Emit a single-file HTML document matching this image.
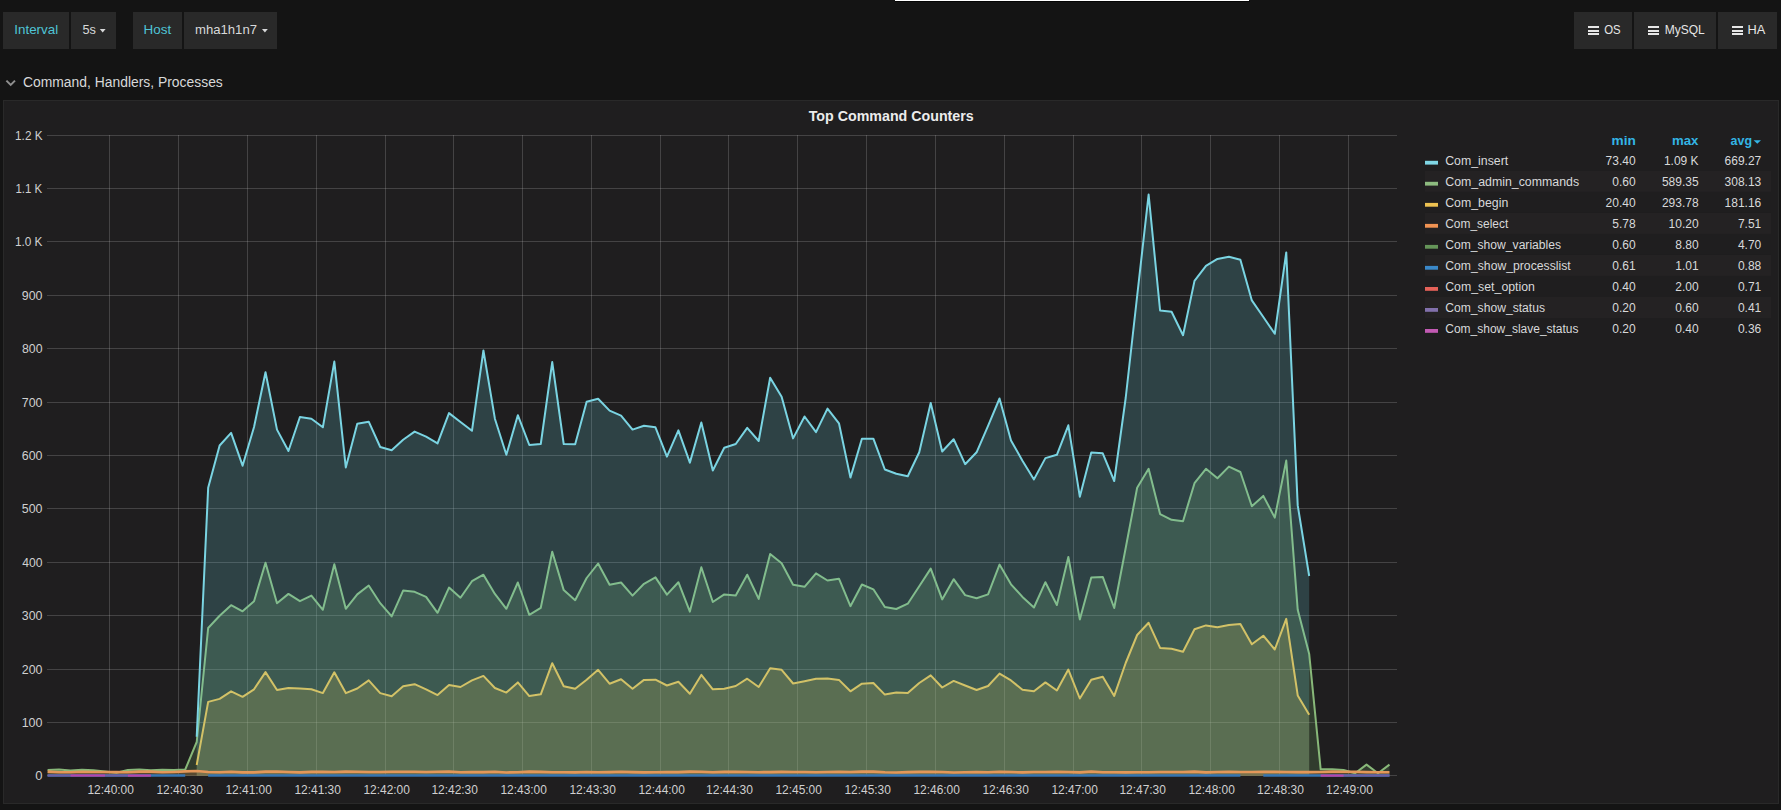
<!DOCTYPE html>
<html><head><meta charset="utf-8"><title>Grafana - MySQL</title>
<style>
html,body{margin:0;padding:0;background:#141414;}
body{width:1781px;height:810px;overflow:hidden;position:relative;}
svg{position:absolute;left:0;top:0;display:block;}
svg text{font-family:"Liberation Sans",sans-serif;white-space:pre;}
</style></head><body>
<svg width="1781" height="810" viewBox="0 0 1781 810">
<rect x="0" y="0" width="1781" height="810" fill="#141414"/>
<rect x="895" y="0" width="354" height="1" fill="#ffffff"/>
<rect x="895" y="1" width="355" height="1" fill="#050505"/>
<g fill="#292929">
<rect x="3" y="12" width="66" height="37"/>
<rect x="71" y="12" width="45" height="37"/>
<rect x="133" y="12" width="49" height="37"/>
<rect x="184" y="12" width="93" height="37"/>
<rect x="1574" y="12" width="58" height="37"/>
<rect x="1634" y="12" width="82" height="37"/>
<rect x="1718" y="12" width="59" height="37"/>
</g>
<path d="M99.8,29 L105.6,29 L102.7,32.4 Z" fill="#d8d9da"/>
<path d="M262,29 L267.8,29 L264.9,32.4 Z" fill="#d8d9da"/>
<rect x="1588" y="26" width="11" height="2" fill="#e6e6e6"/><rect x="1588" y="30" width="11" height="2" fill="#e6e6e6"/><rect x="1588" y="33" width="11" height="2" fill="#e6e6e6"/><rect x="1648" y="26" width="11" height="2" fill="#e6e6e6"/><rect x="1648" y="30" width="11" height="2" fill="#e6e6e6"/><rect x="1648" y="33" width="11" height="2" fill="#e6e6e6"/><rect x="1732" y="26" width="11" height="2" fill="#e6e6e6"/><rect x="1732" y="30" width="11" height="2" fill="#e6e6e6"/><rect x="1732" y="33" width="11" height="2" fill="#e6e6e6"/>
<path d="M6.4,80.6 L10.7,84.9 L15,80.6" fill="none" stroke="#8f8f8f" stroke-width="2"/>
<rect x="3" y="100" width="1776" height="704" fill="#292929"/>
<rect x="4" y="101" width="1774" height="702" fill="#1f1e1f"/>
<g fill="rgba(200,200,200,0.22)">
<rect x="47" y="775" width="1350" height="1"/>
<rect x="47" y="722" width="1350" height="1"/>
<rect x="47" y="669" width="1350" height="1"/>
<rect x="47" y="615" width="1350" height="1"/>
<rect x="47" y="562" width="1350" height="1"/>
<rect x="47" y="508" width="1350" height="1"/>
<rect x="47" y="455" width="1350" height="1"/>
<rect x="47" y="402" width="1350" height="1"/>
<rect x="47" y="348" width="1350" height="1"/>
<rect x="47" y="295" width="1350" height="1"/>
<rect x="47" y="241" width="1350" height="1"/>
<rect x="47" y="188" width="1350" height="1"/>
<rect x="47" y="135" width="1350" height="1"/>
<rect x="109" y="135" width="1" height="641"/>
<rect x="178" y="135" width="1" height="641"/>
<rect x="247" y="135" width="1" height="641"/>
<rect x="316" y="135" width="1" height="641"/>
<rect x="385" y="135" width="1" height="641"/>
<rect x="453" y="135" width="1" height="641"/>
<rect x="522" y="135" width="1" height="641"/>
<rect x="591" y="135" width="1" height="641"/>
<rect x="660" y="135" width="1" height="641"/>
<rect x="728" y="135" width="1" height="641"/>
<rect x="797" y="135" width="1" height="641"/>
<rect x="866" y="135" width="1" height="641"/>
<rect x="935" y="135" width="1" height="641"/>
<rect x="1004" y="135" width="1" height="641"/>
<rect x="1073" y="135" width="1" height="641"/>
<rect x="1141" y="135" width="1" height="641"/>
<rect x="1210" y="135" width="1" height="641"/>
<rect x="1279" y="135" width="1" height="641"/>
<rect x="1348" y="135" width="1" height="641"/>
</g>
<g>
<path d="M47.60,775.80 L47.60,770.00 L59.07,769.60 L70.54,770.40 L82.01,769.80 L93.48,770.20 L104.94,771.50 L116.41,772.80 L127.88,770.00 L139.35,769.60 L150.82,770.20 L162.29,769.80 L173.76,770.00 L185.23,769.50 L196.70,742.00 L208.17,628.00 L219.63,615.80 L231.10,605.20 L242.57,611.30 L254.04,601.20 L265.51,562.80 L276.98,603.20 L288.45,593.90 L299.92,601.20 L311.39,595.60 L322.86,609.80 L334.32,564.30 L345.79,608.80 L357.26,594.40 L368.73,585.50 L380.20,603.20 L391.67,616.40 L403.14,590.60 L414.61,591.80 L426.08,596.90 L437.55,612.80 L449.01,587.60 L460.48,597.70 L471.95,581.20 L483.42,574.70 L494.89,593.90 L506.36,608.80 L517.83,582.50 L529.30,614.80 L540.77,607.80 L552.24,551.70 L563.71,590.10 L575.17,600.20 L586.64,578.00 L598.11,563.50 L609.58,584.80 L621.05,582.50 L632.52,595.60 L643.99,583.80 L655.46,577.40 L666.93,594.60 L678.39,582.20 L689.86,611.60 L701.33,567.30 L712.80,602.00 L724.27,594.40 L735.74,595.60 L747.21,574.70 L758.68,598.90 L770.15,554.00 L781.62,563.30 L793.09,584.80 L804.55,586.80 L816.02,573.40 L827.49,580.50 L838.96,578.70 L850.43,606.20 L861.90,584.50 L873.37,589.30 L884.84,607.00 L896.31,609.00 L907.77,603.70 L919.24,586.30 L930.71,568.60 L942.18,599.40 L953.65,579.20 L965.12,595.10 L976.59,598.20 L988.06,594.40 L999.53,564.60 L1011.00,584.30 L1022.46,596.90 L1033.93,607.50 L1045.40,582.20 L1056.87,605.00 L1068.34,557.00 L1079.81,619.40 L1091.28,577.40 L1102.75,576.90 L1114.22,608.00 L1125.69,548.00 L1137.15,487.80 L1148.62,468.80 L1160.09,514.10 L1171.56,519.80 L1183.03,521.20 L1194.50,483.20 L1205.97,468.80 L1217.44,478.30 L1228.91,466.60 L1240.38,472.00 L1251.84,506.20 L1263.31,495.90 L1274.78,517.60 L1286.25,460.60 L1297.72,609.80 L1309.19,653.90 L1320.66,769.30 L1332.13,769.30 L1343.60,770.00 L1355.07,773.20 L1366.53,764.60 L1378.00,773.20 L1389.47,764.60 L1389.47,775.80 Z" fill="#7EB26D" fill-opacity="0.20" stroke="none"/>
<path d="M47.60,770.00 L59.07,769.60 L70.54,770.40 L82.01,769.80 L93.48,770.20 L104.94,771.50 L116.41,772.80 L127.88,770.00 L139.35,769.60 L150.82,770.20 L162.29,769.80 L173.76,770.00 L185.23,769.50 L196.70,742.00 L208.17,628.00 L219.63,615.80 L231.10,605.20 L242.57,611.30 L254.04,601.20 L265.51,562.80 L276.98,603.20 L288.45,593.90 L299.92,601.20 L311.39,595.60 L322.86,609.80 L334.32,564.30 L345.79,608.80 L357.26,594.40 L368.73,585.50 L380.20,603.20 L391.67,616.40 L403.14,590.60 L414.61,591.80 L426.08,596.90 L437.55,612.80 L449.01,587.60 L460.48,597.70 L471.95,581.20 L483.42,574.70 L494.89,593.90 L506.36,608.80 L517.83,582.50 L529.30,614.80 L540.77,607.80 L552.24,551.70 L563.71,590.10 L575.17,600.20 L586.64,578.00 L598.11,563.50 L609.58,584.80 L621.05,582.50 L632.52,595.60 L643.99,583.80 L655.46,577.40 L666.93,594.60 L678.39,582.20 L689.86,611.60 L701.33,567.30 L712.80,602.00 L724.27,594.40 L735.74,595.60 L747.21,574.70 L758.68,598.90 L770.15,554.00 L781.62,563.30 L793.09,584.80 L804.55,586.80 L816.02,573.40 L827.49,580.50 L838.96,578.70 L850.43,606.20 L861.90,584.50 L873.37,589.30 L884.84,607.00 L896.31,609.00 L907.77,603.70 L919.24,586.30 L930.71,568.60 L942.18,599.40 L953.65,579.20 L965.12,595.10 L976.59,598.20 L988.06,594.40 L999.53,564.60 L1011.00,584.30 L1022.46,596.90 L1033.93,607.50 L1045.40,582.20 L1056.87,605.00 L1068.34,557.00 L1079.81,619.40 L1091.28,577.40 L1102.75,576.90 L1114.22,608.00 L1125.69,548.00 L1137.15,487.80 L1148.62,468.80 L1160.09,514.10 L1171.56,519.80 L1183.03,521.20 L1194.50,483.20 L1205.97,468.80 L1217.44,478.30 L1228.91,466.60 L1240.38,472.00 L1251.84,506.20 L1263.31,495.90 L1274.78,517.60 L1286.25,460.60 L1297.72,609.80 L1309.19,653.90 L1320.66,769.30 L1332.13,769.30 L1343.60,770.00 L1355.07,773.20 L1366.53,764.60 L1378.00,773.20 L1389.47,764.60" fill="none" stroke="#88b879" stroke-width="2" stroke-linejoin="round"/>
<path d="M196.70,775.80 L196.70,765.00 L208.17,701.90 L219.63,698.90 L231.10,691.30 L242.57,696.80 L254.04,689.30 L265.51,672.10 L276.98,690.00 L288.45,688.00 L299.92,688.50 L311.39,689.30 L322.86,693.10 L334.32,672.30 L345.79,693.10 L357.26,688.50 L368.73,680.40 L380.20,693.10 L391.67,696.30 L403.14,686.20 L414.61,684.20 L426.08,689.30 L437.55,695.10 L449.01,685.00 L460.48,687.00 L471.95,680.40 L483.42,675.90 L494.89,688.00 L506.36,692.60 L517.83,682.40 L529.30,696.10 L540.77,694.30 L552.24,663.20 L563.71,686.20 L575.17,688.80 L586.64,679.70 L598.11,669.80 L609.58,683.70 L621.05,679.20 L632.52,688.80 L643.99,679.90 L655.46,679.70 L666.93,685.50 L678.39,681.70 L689.86,693.80 L701.33,674.90 L712.80,689.30 L724.27,688.80 L735.74,686.00 L747.21,678.70 L758.68,687.00 L770.15,668.30 L781.62,669.80 L793.09,683.50 L804.55,681.20 L816.02,678.70 L827.49,678.40 L838.96,679.90 L850.43,691.30 L861.90,683.70 L873.37,683.00 L884.84,694.60 L896.31,692.60 L907.77,693.10 L919.24,683.00 L930.71,675.40 L942.18,687.50 L953.65,680.90 L965.12,685.50 L976.59,690.00 L988.06,686.00 L999.53,673.60 L1011.00,680.40 L1022.46,689.80 L1033.93,691.30 L1045.40,682.40 L1056.87,690.50 L1068.34,669.60 L1079.81,698.50 L1091.28,679.80 L1102.75,676.70 L1114.22,695.90 L1125.69,663.00 L1137.15,635.00 L1148.62,622.80 L1160.09,647.90 L1171.56,648.70 L1183.03,651.80 L1194.50,629.30 L1205.97,625.40 L1217.44,627.20 L1228.91,624.90 L1240.38,624.10 L1251.84,644.30 L1263.31,635.70 L1274.78,649.50 L1286.25,618.90 L1297.72,695.40 L1309.19,714.80 L1309.19,775.80 Z" fill="#EAB839" fill-opacity="0.20" stroke="none"/>
<path d="M196.70,765.00 L208.17,701.90 L219.63,698.90 L231.10,691.30 L242.57,696.80 L254.04,689.30 L265.51,672.10 L276.98,690.00 L288.45,688.00 L299.92,688.50 L311.39,689.30 L322.86,693.10 L334.32,672.30 L345.79,693.10 L357.26,688.50 L368.73,680.40 L380.20,693.10 L391.67,696.30 L403.14,686.20 L414.61,684.20 L426.08,689.30 L437.55,695.10 L449.01,685.00 L460.48,687.00 L471.95,680.40 L483.42,675.90 L494.89,688.00 L506.36,692.60 L517.83,682.40 L529.30,696.10 L540.77,694.30 L552.24,663.20 L563.71,686.20 L575.17,688.80 L586.64,679.70 L598.11,669.80 L609.58,683.70 L621.05,679.20 L632.52,688.80 L643.99,679.90 L655.46,679.70 L666.93,685.50 L678.39,681.70 L689.86,693.80 L701.33,674.90 L712.80,689.30 L724.27,688.80 L735.74,686.00 L747.21,678.70 L758.68,687.00 L770.15,668.30 L781.62,669.80 L793.09,683.50 L804.55,681.20 L816.02,678.70 L827.49,678.40 L838.96,679.90 L850.43,691.30 L861.90,683.70 L873.37,683.00 L884.84,694.60 L896.31,692.60 L907.77,693.10 L919.24,683.00 L930.71,675.40 L942.18,687.50 L953.65,680.90 L965.12,685.50 L976.59,690.00 L988.06,686.00 L999.53,673.60 L1011.00,680.40 L1022.46,689.80 L1033.93,691.30 L1045.40,682.40 L1056.87,690.50 L1068.34,669.60 L1079.81,698.50 L1091.28,679.80 L1102.75,676.70 L1114.22,695.90 L1125.69,663.00 L1137.15,635.00 L1148.62,622.80 L1160.09,647.90 L1171.56,648.70 L1183.03,651.80 L1194.50,629.30 L1205.97,625.40 L1217.44,627.20 L1228.91,624.90 L1240.38,624.10 L1251.84,644.30 L1263.31,635.70 L1274.78,649.50 L1286.25,618.90 L1297.72,695.40 L1309.19,714.80" fill="none" stroke="#ecbe49" stroke-width="2" stroke-linejoin="round"/>
<path d="M196.70,775.80 L196.70,736.80 L208.17,487.70 L219.63,445.50 L231.10,432.90 L242.57,465.70 L254.04,427.00 L265.51,372.20 L276.98,429.60 L288.45,451.00 L299.92,417.00 L311.39,418.70 L322.86,427.30 L334.32,361.60 L345.79,467.40 L357.26,423.70 L368.73,421.70 L380.20,447.00 L391.67,450.30 L403.14,439.70 L414.61,431.60 L426.08,436.60 L437.55,443.40 L449.01,413.10 L460.48,422.00 L471.95,430.80 L483.42,350.50 L494.89,418.70 L506.36,454.80 L517.83,415.20 L529.30,445.00 L540.77,444.00 L552.24,362.10 L563.71,444.00 L575.17,444.20 L586.64,401.80 L598.11,398.80 L609.58,410.60 L621.05,415.70 L632.52,429.60 L643.99,425.80 L655.46,427.30 L666.93,456.60 L678.39,430.30 L689.86,462.60 L701.33,422.50 L712.80,470.50 L724.27,447.70 L735.74,444.00 L747.21,427.80 L758.68,441.00 L770.15,377.80 L781.62,396.70 L793.09,438.40 L804.55,416.50 L816.02,432.10 L827.49,408.60 L838.96,423.30 L850.43,477.60 L861.90,438.70 L873.37,438.70 L884.84,469.50 L896.31,473.80 L907.77,476.30 L919.24,452.30 L930.71,403.00 L942.18,451.50 L953.65,439.20 L965.12,464.20 L976.59,452.30 L988.06,425.80 L999.53,398.50 L1011.00,440.40 L1022.46,460.70 L1033.93,479.40 L1045.40,458.10 L1056.87,454.80 L1068.34,425.30 L1079.81,496.70 L1091.28,452.50 L1102.75,453.30 L1114.22,481.00 L1125.69,398.00 L1137.15,296.00 L1148.62,194.50 L1160.09,310.50 L1171.56,311.80 L1183.03,335.20 L1194.50,280.90 L1205.97,265.90 L1217.44,258.90 L1228.91,256.70 L1240.38,259.70 L1251.84,300.40 L1263.31,317.00 L1274.78,333.80 L1286.25,252.40 L1297.72,505.40 L1309.19,576.00 L1309.19,775.80 Z" fill="#6ED0E0" fill-opacity="0.20" stroke="none"/>
<path d="M196.70,736.80 L208.17,487.70 L219.63,445.50 L231.10,432.90 L242.57,465.70 L254.04,427.00 L265.51,372.20 L276.98,429.60 L288.45,451.00 L299.92,417.00 L311.39,418.70 L322.86,427.30 L334.32,361.60 L345.79,467.40 L357.26,423.70 L368.73,421.70 L380.20,447.00 L391.67,450.30 L403.14,439.70 L414.61,431.60 L426.08,436.60 L437.55,443.40 L449.01,413.10 L460.48,422.00 L471.95,430.80 L483.42,350.50 L494.89,418.70 L506.36,454.80 L517.83,415.20 L529.30,445.00 L540.77,444.00 L552.24,362.10 L563.71,444.00 L575.17,444.20 L586.64,401.80 L598.11,398.80 L609.58,410.60 L621.05,415.70 L632.52,429.60 L643.99,425.80 L655.46,427.30 L666.93,456.60 L678.39,430.30 L689.86,462.60 L701.33,422.50 L712.80,470.50 L724.27,447.70 L735.74,444.00 L747.21,427.80 L758.68,441.00 L770.15,377.80 L781.62,396.70 L793.09,438.40 L804.55,416.50 L816.02,432.10 L827.49,408.60 L838.96,423.30 L850.43,477.60 L861.90,438.70 L873.37,438.70 L884.84,469.50 L896.31,473.80 L907.77,476.30 L919.24,452.30 L930.71,403.00 L942.18,451.50 L953.65,439.20 L965.12,464.20 L976.59,452.30 L988.06,425.80 L999.53,398.50 L1011.00,440.40 L1022.46,460.70 L1033.93,479.40 L1045.40,458.10 L1056.87,454.80 L1068.34,425.30 L1079.81,496.70 L1091.28,452.50 L1102.75,453.30 L1114.22,481.00 L1125.69,398.00 L1137.15,296.00 L1148.62,194.50 L1160.09,310.50 L1171.56,311.80 L1183.03,335.20 L1194.50,280.90 L1205.97,265.90 L1217.44,258.90 L1228.91,256.70 L1240.38,259.70 L1251.84,300.40 L1263.31,317.00 L1274.78,333.80 L1286.25,252.40 L1297.72,505.40 L1309.19,576.00" fill="none" stroke="#7ad4e2" stroke-width="2" stroke-linejoin="round"/>
<path d="M47.60,775.80 L47.60,771.67 L59.07,772.31 L70.54,772.24 L82.01,771.78 L93.48,772.00 L104.94,771.95 L116.41,772.14 L127.88,772.26 L139.35,771.63 L150.82,771.58 L162.29,772.30 L173.76,771.94 L185.23,771.40 L196.70,771.00 L208.17,771.95 L219.63,772.20 L231.10,771.76 L242.57,772.40 L254.04,772.36 L265.51,771.58 L276.98,771.57 L288.45,772.04 L299.92,772.40 L311.39,771.89 L322.86,771.74 L334.32,771.93 L345.79,771.58 L357.26,771.75 L368.73,771.94 L380.20,772.00 L391.67,771.76 L403.14,771.76 L414.61,771.75 L426.08,771.96 L437.55,771.81 L449.01,771.57 L460.48,772.30 L471.95,772.05 L483.42,772.13 L494.89,771.72 L506.36,772.44 L517.83,772.32 L529.30,771.66 L540.77,771.85 L552.24,772.20 L563.71,772.19 L575.17,772.39 L586.64,771.93 L598.11,772.30 L609.58,772.15 L621.05,771.82 L632.52,772.08 L643.99,772.34 L655.46,772.31 L666.93,772.00 L678.39,772.08 L689.86,771.58 L701.33,771.77 L712.80,772.27 L724.27,771.92 L735.74,771.71 L747.21,772.04 L758.68,772.18 L770.15,772.16 L781.62,771.89 L793.09,771.95 L804.55,772.01 L816.02,772.25 L827.49,772.02 L838.96,771.90 L850.43,771.99 L861.90,771.58 L873.37,771.59 L884.84,772.18 L896.31,772.43 L907.77,772.08 L919.24,771.90 L930.71,771.70 L942.18,772.00 L953.65,772.43 L965.12,772.24 L976.59,772.04 L988.06,772.32 L999.53,771.76 L1011.00,772.01 L1022.46,772.41 L1033.93,772.07 L1045.40,771.96 L1056.87,771.79 L1068.34,772.04 L1079.81,772.41 L1091.28,771.56 L1102.75,772.26 L1114.22,772.29 L1125.69,772.35 L1137.15,772.22 L1148.62,772.28 L1160.09,772.02 L1171.56,772.06 L1183.03,771.93 L1194.50,771.60 L1205.97,772.33 L1217.44,772.06 L1228.91,771.73 L1240.38,772.00 L1251.84,771.99 L1263.31,771.87 L1274.78,771.86 L1286.25,772.03 L1297.72,772.11 L1309.19,772.10 L1320.66,771.96 L1332.13,771.58 L1343.60,771.76 L1355.07,771.71 L1366.53,772.08 L1378.00,772.32 L1389.47,772.27 L1389.47,775.80 Z" fill="#EF843C" fill-opacity="0.20" stroke="none"/>
<path d="M47.60,771.67 L59.07,772.31 L70.54,772.24 L82.01,771.78 L93.48,772.00 L104.94,771.95 L116.41,772.14 L127.88,772.26 L139.35,771.63 L150.82,771.58 L162.29,772.30 L173.76,771.94 L185.23,771.40 L196.70,771.00 L208.17,771.95 L219.63,772.20 L231.10,771.76 L242.57,772.40 L254.04,772.36 L265.51,771.58 L276.98,771.57 L288.45,772.04 L299.92,772.40 L311.39,771.89 L322.86,771.74 L334.32,771.93 L345.79,771.58 L357.26,771.75 L368.73,771.94 L380.20,772.00 L391.67,771.76 L403.14,771.76 L414.61,771.75 L426.08,771.96 L437.55,771.81 L449.01,771.57 L460.48,772.30 L471.95,772.05 L483.42,772.13 L494.89,771.72 L506.36,772.44 L517.83,772.32 L529.30,771.66 L540.77,771.85 L552.24,772.20 L563.71,772.19 L575.17,772.39 L586.64,771.93 L598.11,772.30 L609.58,772.15 L621.05,771.82 L632.52,772.08 L643.99,772.34 L655.46,772.31 L666.93,772.00 L678.39,772.08 L689.86,771.58 L701.33,771.77 L712.80,772.27 L724.27,771.92 L735.74,771.71 L747.21,772.04 L758.68,772.18 L770.15,772.16 L781.62,771.89 L793.09,771.95 L804.55,772.01 L816.02,772.25 L827.49,772.02 L838.96,771.90 L850.43,771.99 L861.90,771.58 L873.37,771.59 L884.84,772.18 L896.31,772.43 L907.77,772.08 L919.24,771.90 L930.71,771.70 L942.18,772.00 L953.65,772.43 L965.12,772.24 L976.59,772.04 L988.06,772.32 L999.53,771.76 L1011.00,772.01 L1022.46,772.41 L1033.93,772.07 L1045.40,771.96 L1056.87,771.79 L1068.34,772.04 L1079.81,772.41 L1091.28,771.56 L1102.75,772.26 L1114.22,772.29 L1125.69,772.35 L1137.15,772.22 L1148.62,772.28 L1160.09,772.02 L1171.56,772.06 L1183.03,771.93 L1194.50,771.60 L1205.97,772.33 L1217.44,772.06 L1228.91,771.73 L1240.38,772.00 L1251.84,771.99 L1263.31,771.87 L1274.78,771.86 L1286.25,772.03 L1297.72,772.11 L1309.19,772.10 L1320.66,771.96 L1332.13,771.58 L1343.60,771.76 L1355.07,771.71 L1366.53,772.08 L1378.00,772.32 L1389.47,772.27" fill="none" stroke="#e3975a" stroke-width="2.6" stroke-linejoin="round"/>
<path d="M47.60,775.50 L59.07,775.50 L70.54,775.50 L82.01,775.50 L93.48,775.50 L104.94,775.50 L116.41,775.50 L127.88,775.50 L139.35,775.50 L150.82,775.50 L162.29,775.50 L173.76,775.50 L185.23,775.50" fill="none" stroke="#3575b2" stroke-width="2.6" stroke-linejoin="round"/>
<path d="M208.17,775.50 L219.63,775.50 L231.10,775.50 L242.57,775.50 L254.04,775.50 L265.51,775.50 L276.98,775.50 L288.45,775.50 L299.92,775.50 L311.39,775.50 L322.86,775.50 L334.32,775.50 L345.79,775.50 L357.26,775.50 L368.73,775.50 L380.20,775.50 L391.67,775.50 L403.14,775.50 L414.61,775.50 L426.08,775.50 L437.55,775.50 L449.01,775.50 L460.48,775.50 L471.95,775.50 L483.42,775.50 L494.89,775.50 L506.36,775.50 L517.83,775.50 L529.30,775.50 L540.77,775.50 L552.24,775.50 L563.71,775.50 L575.17,775.50 L586.64,775.50 L598.11,775.50 L609.58,775.50 L621.05,775.50 L632.52,775.50 L643.99,775.50 L655.46,775.50 L666.93,775.50 L678.39,775.50 L689.86,775.50 L701.33,775.50 L712.80,775.50 L724.27,775.50 L735.74,775.50 L747.21,775.50 L758.68,775.50 L770.15,775.50 L781.62,775.50 L793.09,775.50 L804.55,775.50 L816.02,775.50 L827.49,775.50 L838.96,775.50 L850.43,775.50 L861.90,775.50 L873.37,775.50 L884.84,775.50 L896.31,775.50 L907.77,775.50 L919.24,775.50 L930.71,775.50 L942.18,775.50 L953.65,775.50 L965.12,775.50 L976.59,775.50 L988.06,775.50 L999.53,775.50 L1011.00,775.50 L1022.46,775.50 L1033.93,775.50 L1045.40,775.50 L1056.87,775.50 L1068.34,775.50 L1079.81,775.50 L1091.28,775.50 L1102.75,775.50 L1114.22,775.50 L1125.69,775.50 L1137.15,775.50 L1148.62,775.50 L1160.09,775.50 L1171.56,775.50 L1183.03,775.50 L1194.50,775.50 L1205.97,775.50 L1217.44,775.50 L1228.91,775.50 L1240.38,775.50" fill="none" stroke="#3575b2" stroke-width="2.6" stroke-linejoin="round"/>
<path d="M1263.31,775.50 L1274.78,775.50 L1286.25,775.50 L1297.72,775.50 L1309.19,775.50 L1320.66,775.50 L1332.13,775.50 L1343.60,775.50 L1355.07,775.50 L1366.53,775.50 L1378.00,775.50 L1389.47,775.50" fill="none" stroke="#3575b2" stroke-width="2.6" stroke-linejoin="round"/>
<path d="M47.60,775.60 L59.07,775.60 L70.54,775.60 L82.01,775.60 L93.48,775.60 L104.94,775.60 L116.41,775.60 L127.88,775.60 L139.35,775.60 L150.82,775.60" fill="none" stroke="#705DA0" stroke-width="2" stroke-linejoin="round"/>
<path d="M1320.66,775.60 L1332.13,775.60 L1343.60,775.60 L1355.07,775.60 L1366.53,775.60 L1378.00,775.60 L1389.47,775.60" fill="none" stroke="#705DA0" stroke-width="2" stroke-linejoin="round"/>
<path d="M70.54,775.60 L82.01,775.60 L93.48,775.60 L104.94,775.60" fill="none" stroke="#BA43A9" stroke-width="2" stroke-linejoin="round"/>
<path d="M127.88,775.60 L139.35,775.60 L150.82,775.60" fill="none" stroke="#BA43A9" stroke-width="2" stroke-linejoin="round"/>
<path d="M1320.66,775.60 L1332.13,775.60 L1343.60,775.60" fill="none" stroke="#BA43A9" stroke-width="2" stroke-linejoin="round"/>
</g>
<rect x="1425" y="170.8" width="346" height="21" fill="#242223"/>
<rect x="1425" y="212.9" width="346" height="21" fill="#242223"/>
<rect x="1425" y="254.9" width="346" height="21" fill="#242223"/>
<rect x="1425" y="297.0" width="346" height="21" fill="#242223"/>
<rect x="1425" y="160.8" width="13" height="3.8" fill="#7fd6e4"/>
<rect x="1425" y="181.8" width="13" height="3.8" fill="#8dbb7f"/>
<rect x="1425" y="202.9" width="13" height="3.8" fill="#edc151"/>
<rect x="1425" y="223.9" width="13" height="3.8" fill="#f19353"/>
<rect x="1425" y="244.9" width="13" height="3.8" fill="#659559"/>
<rect x="1425" y="265.9" width="13" height="3.8" fill="#3a88c8"/>
<rect x="1425" y="287.0" width="13" height="3.8" fill="#e56259"/>
<rect x="1425" y="308.0" width="13" height="3.8" fill="#8170ab"/>
<rect x="1425" y="329.0" width="13" height="3.8" fill="#c25ab3"/>
<g font-size="12" fill="#d8d9da">
<text x="1635.6" y="164.5" text-anchor="end">73.40</text>
<text x="1698.6" y="164.5" text-anchor="end">1.09 K</text>
<text x="1761.3" y="164.5" text-anchor="end">669.27</text>
<text x="1635.6" y="185.5" text-anchor="end">0.60</text>
<text x="1698.6" y="185.5" text-anchor="end">589.35</text>
<text x="1761.3" y="185.5" text-anchor="end">308.13</text>
<text x="1635.6" y="206.6" text-anchor="end">20.40</text>
<text x="1698.6" y="206.6" text-anchor="end">293.78</text>
<text x="1761.3" y="206.6" text-anchor="end">181.16</text>
<text x="1635.6" y="227.6" text-anchor="end">5.78</text>
<text x="1698.6" y="227.6" text-anchor="end">10.20</text>
<text x="1761.3" y="227.6" text-anchor="end">7.51</text>
<text x="1635.6" y="248.6" text-anchor="end">0.60</text>
<text x="1698.6" y="248.6" text-anchor="end">8.80</text>
<text x="1761.3" y="248.6" text-anchor="end">4.70</text>
<text x="1635.6" y="269.6" text-anchor="end">0.61</text>
<text x="1698.6" y="269.6" text-anchor="end">1.01</text>
<text x="1761.3" y="269.6" text-anchor="end">0.88</text>
<text x="1635.6" y="290.7" text-anchor="end">0.40</text>
<text x="1698.6" y="290.7" text-anchor="end">2.00</text>
<text x="1761.3" y="290.7" text-anchor="end">0.71</text>
<text x="1635.6" y="311.7" text-anchor="end">0.20</text>
<text x="1698.6" y="311.7" text-anchor="end">0.60</text>
<text x="1761.3" y="311.7" text-anchor="end">0.41</text>
<text x="1635.6" y="332.7" text-anchor="end">0.20</text>
<text x="1698.6" y="332.7" text-anchor="end">0.40</text>
<text x="1761.3" y="332.7" text-anchor="end">0.36</text>
</g>
<path d="M1753.6,140.2 L1761,140.2 L1757.3,143.8 Z" fill="#33b5e5"/>
<text id="t_interval" x="14.29" y="34.20" font-size="13" fill="#4fc4d6" textLength="43.86" lengthAdjust="spacingAndGlyphs">Interval</text>
<text id="t_5s" x="82.52" y="34.20" font-size="13" fill="#d8d9da" textLength="13.47" lengthAdjust="spacingAndGlyphs">5s</text>
<text id="t_host" x="143.54" y="34.10" font-size="13" fill="#4fc4d6" textLength="27.66" lengthAdjust="spacingAndGlyphs">Host</text>
<text id="t_mha" x="195.02" y="34.10" font-size="13" fill="#d8d9da" textLength="62.01" lengthAdjust="spacingAndGlyphs">mha1h1n7</text>
<text id="t_os" x="1604.23" y="33.80" font-size="12.5" fill="#e6e6e6" textLength="16.44" lengthAdjust="spacingAndGlyphs">OS</text>
<text id="t_mysql" x="1664.78" y="33.80" font-size="12.5" fill="#e6e6e6" textLength="40.00" lengthAdjust="spacingAndGlyphs">MySQL</text>
<text id="t_ha" x="1747.62" y="33.80" font-size="12.5" fill="#e6e6e6" textLength="17.76" lengthAdjust="spacingAndGlyphs">HA</text>
<text id="t_row" x="22.99" y="87.00" font-size="14" fill="#d8d9da" textLength="199.82" lengthAdjust="spacingAndGlyphs">Command, Handlers, Processes</text>
<text id="t_title" x="808.69" y="121.00" font-size="14" fill="#ececec" font-weight="bold" textLength="165.06" lengthAdjust="spacingAndGlyphs">Top Command Counters</text>
<text id="yl0" x="35.28" y="779.80" font-size="12" fill="#d0d0d0" textLength="7.24" lengthAdjust="spacingAndGlyphs">0</text>
<text id="yl1" x="21.65" y="726.80" font-size="12" fill="#d0d0d0" textLength="20.88" lengthAdjust="spacingAndGlyphs">100</text>
<text id="yl2" x="21.83" y="673.80" font-size="12" fill="#d0d0d0" textLength="20.66" lengthAdjust="spacingAndGlyphs">200</text>
<text id="yl3" x="21.89" y="619.80" font-size="12" fill="#d0d0d0" textLength="20.58" lengthAdjust="spacingAndGlyphs">300</text>
<text id="yl4" x="22.28" y="566.80" font-size="12" fill="#d0d0d0" textLength="20.20" lengthAdjust="spacingAndGlyphs">400</text>
<text id="yl5" x="21.76" y="512.80" font-size="12" fill="#d0d0d0" textLength="20.69" lengthAdjust="spacingAndGlyphs">500</text>
<text id="yl6" x="21.80" y="459.80" font-size="12" fill="#d0d0d0" textLength="20.69" lengthAdjust="spacingAndGlyphs">600</text>
<text id="yl7" x="21.88" y="406.80" font-size="12" fill="#d0d0d0" textLength="20.61" lengthAdjust="spacingAndGlyphs">700</text>
<text id="yl8" x="21.99" y="352.80" font-size="12" fill="#d0d0d0" textLength="20.51" lengthAdjust="spacingAndGlyphs">800</text>
<text id="yl9" x="21.81" y="299.80" font-size="12" fill="#d0d0d0" textLength="20.69" lengthAdjust="spacingAndGlyphs">900</text>
<text id="yl10" x="14.91" y="245.80" font-size="12" fill="#d0d0d0" textLength="27.61" lengthAdjust="spacingAndGlyphs">1.0 K</text>
<text id="yl11" x="15.47" y="192.80" font-size="12" fill="#d0d0d0" textLength="26.75" lengthAdjust="spacingAndGlyphs">1.1 K</text>
<text id="yl12" x="15.09" y="139.80" font-size="12" fill="#d0d0d0" textLength="27.45" lengthAdjust="spacingAndGlyphs">1.2 K</text>
<text id="xl0" x="87.45" y="793.90" font-size="12" fill="#d0d0d0" textLength="46.47" lengthAdjust="spacingAndGlyphs">12:40:00</text>
<text id="xl1" x="156.45" y="793.90" font-size="12" fill="#d0d0d0" textLength="46.47" lengthAdjust="spacingAndGlyphs">12:40:30</text>
<text id="xl2" x="225.45" y="793.90" font-size="12" fill="#d0d0d0" textLength="46.47" lengthAdjust="spacingAndGlyphs">12:41:00</text>
<text id="xl3" x="294.45" y="793.90" font-size="12" fill="#d0d0d0" textLength="46.47" lengthAdjust="spacingAndGlyphs">12:41:30</text>
<text id="xl4" x="363.45" y="793.90" font-size="12" fill="#d0d0d0" textLength="46.47" lengthAdjust="spacingAndGlyphs">12:42:00</text>
<text id="xl5" x="431.45" y="793.90" font-size="12" fill="#d0d0d0" textLength="46.47" lengthAdjust="spacingAndGlyphs">12:42:30</text>
<text id="xl6" x="500.45" y="793.90" font-size="12" fill="#d0d0d0" textLength="46.47" lengthAdjust="spacingAndGlyphs">12:43:00</text>
<text id="xl7" x="569.45" y="793.90" font-size="12" fill="#d0d0d0" textLength="46.47" lengthAdjust="spacingAndGlyphs">12:43:30</text>
<text id="xl8" x="638.45" y="793.90" font-size="12" fill="#d0d0d0" textLength="46.47" lengthAdjust="spacingAndGlyphs">12:44:00</text>
<text id="xl9" x="706.01" y="793.90" font-size="12" fill="#d0d0d0" textLength="46.92" lengthAdjust="spacingAndGlyphs">12:44:30</text>
<text id="xl10" x="775.45" y="793.90" font-size="12" fill="#d0d0d0" textLength="46.47" lengthAdjust="spacingAndGlyphs">12:45:00</text>
<text id="xl11" x="844.45" y="793.90" font-size="12" fill="#d0d0d0" textLength="46.47" lengthAdjust="spacingAndGlyphs">12:45:30</text>
<text id="xl12" x="913.45" y="793.90" font-size="12" fill="#d0d0d0" textLength="46.47" lengthAdjust="spacingAndGlyphs">12:46:00</text>
<text id="xl13" x="982.45" y="793.90" font-size="12" fill="#d0d0d0" textLength="46.47" lengthAdjust="spacingAndGlyphs">12:46:30</text>
<text id="xl14" x="1051.45" y="793.90" font-size="12" fill="#d0d0d0" textLength="46.47" lengthAdjust="spacingAndGlyphs">12:47:00</text>
<text id="xl15" x="1119.45" y="793.90" font-size="12" fill="#d0d0d0" textLength="46.47" lengthAdjust="spacingAndGlyphs">12:47:30</text>
<text id="xl16" x="1188.45" y="793.90" font-size="12" fill="#d0d0d0" textLength="46.47" lengthAdjust="spacingAndGlyphs">12:48:00</text>
<text id="xl17" x="1257.01" y="793.90" font-size="12" fill="#d0d0d0" textLength="46.92" lengthAdjust="spacingAndGlyphs">12:48:30</text>
<text id="xl18" x="1326.01" y="793.90" font-size="12" fill="#d0d0d0" textLength="46.92" lengthAdjust="spacingAndGlyphs">12:49:00</text>
<text id="ln0" x="1445.21" y="164.50" font-size="12" fill="#d8d9da" textLength="63.03" lengthAdjust="spacingAndGlyphs">Com_insert</text>
<text id="ln1" x="1445.21" y="185.53" font-size="12" fill="#d8d9da" textLength="133.91" lengthAdjust="spacingAndGlyphs">Com_admin_commands</text>
<text id="ln2" x="1445.21" y="206.56" font-size="12" fill="#d8d9da" textLength="63.09" lengthAdjust="spacingAndGlyphs">Com_begin</text>
<text id="ln3" x="1445.26" y="227.59" font-size="12" fill="#d8d9da" textLength="62.97" lengthAdjust="spacingAndGlyphs">Com_select</text>
<text id="ln4" x="1445.23" y="248.62" font-size="12" fill="#d8d9da" textLength="115.86" lengthAdjust="spacingAndGlyphs">Com_show_variables</text>
<text id="ln5" x="1445.22" y="269.65" font-size="12" fill="#d8d9da" textLength="125.43" lengthAdjust="spacingAndGlyphs">Com_show_processlist</text>
<text id="ln6" x="1445.21" y="290.68" font-size="12" fill="#d8d9da" textLength="89.77" lengthAdjust="spacingAndGlyphs">Com_set_option</text>
<text id="ln7" x="1445.23" y="311.71" font-size="12" fill="#d8d9da" textLength="99.82" lengthAdjust="spacingAndGlyphs">Com_show_status</text>
<text id="ln8" x="1445.26" y="332.74" font-size="12" fill="#d8d9da" textLength="133.29" lengthAdjust="spacingAndGlyphs">Com_show_slave_status</text>
<text id="h_min" x="1611.55" y="144.80" font-size="12" fill="#33b5e5" font-weight="bold" textLength="24.28" lengthAdjust="spacingAndGlyphs">min</text>
<text id="h_max" x="1671.98" y="144.80" font-size="12" fill="#33b5e5" font-weight="bold" textLength="26.50" lengthAdjust="spacingAndGlyphs">max</text>
<text id="h_avg" x="1730.60" y="144.80" font-size="12" fill="#33b5e5" font-weight="bold" textLength="21.43" lengthAdjust="spacingAndGlyphs">avg</text>
</svg>
</body></html>
